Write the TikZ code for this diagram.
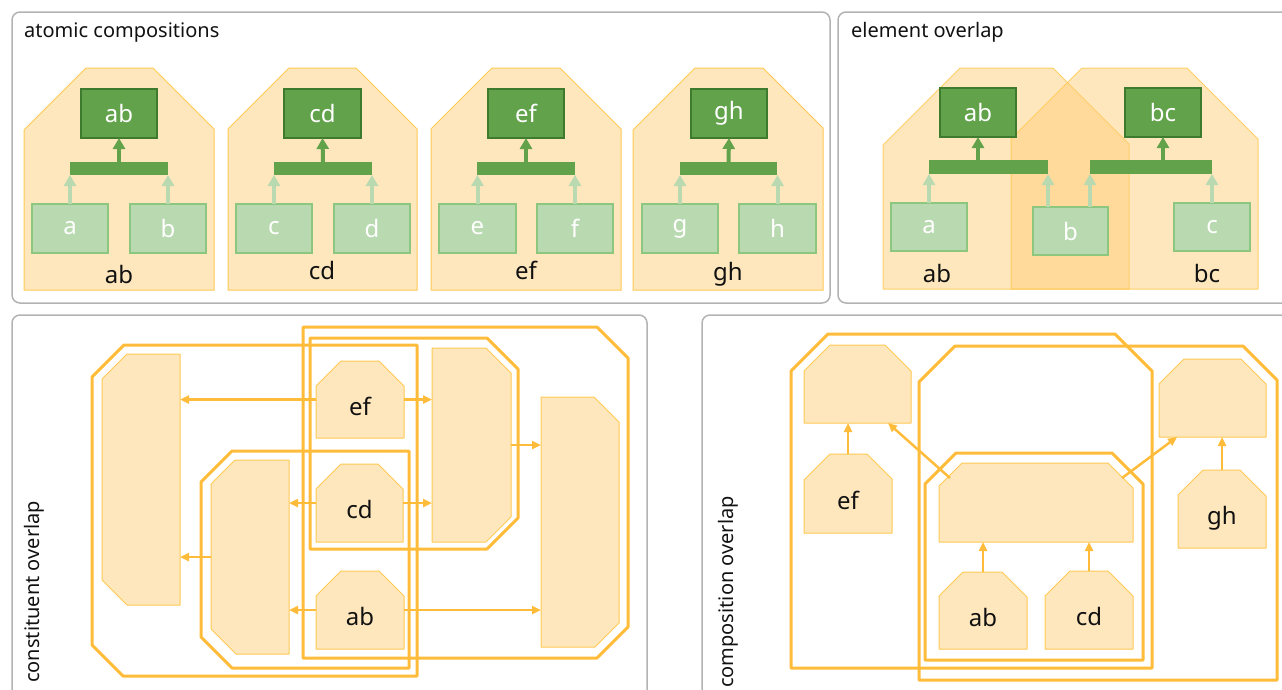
\documentclass[tikz,border=0pt]{standalone}
\usepackage{fontspec}
\setmainfont{Noto Sans}
\usetikzlibrary{arrows.meta,calc,backgrounds}
\definecolor{ofill}{HTML}{FFE7BD}
\definecolor{oline}{HTML}{FFC952}
\definecolor{ehf}{RGB}{255,203,112}
\definecolor{oframe}{HTML}{FFBC3A}
\definecolor{gdark}{HTML}{62A24B}
\definecolor{gdarkline}{HTML}{3E7B2F}
\definecolor{glight}{HTML}{B9DAB0}
\definecolor{glightline}{HTML}{8DC77F}
\definecolor{panelc}{HTML}{B3B3B3}
\definecolor{txt}{HTML}{111111}
\newcommand\lblfont{\fontsize{24}{28}\selectfont}
\tikzset{
  bnd/.style={inner sep=0pt,outer sep=0pt,draw=none},
  panel/.style={draw=panelc,line width=1.5pt,rounded corners=8pt},
  ttl/.style={font=\fontsize{20}{24}\selectfont,text=txt,inner sep=0pt},
  house/.style={fill=ofill,draw=oline,line width=1pt},
  ehouse/.style={fill=ehf,fill opacity=0.46,draw=oline,draw opacity=0.85,line width=1pt},
  oshape/.style={fill=ofill,draw=oline,line width=1pt,line join=round},
  frame/.style={draw=oframe,line width=3pt,line join=round},
  oarr/.style={draw=oframe,line width=2.5pt,-{Triangle[length=9pt,width=8pt]}},
  gparent/.style={bnd,fill=gdark,draw=gdarkline,line width=1.5pt,text=white,font=\lblfont},
  gchild/.style={bnd,fill=glight,draw=glightline,line width=1.5pt,text=white,font=\lblfont},
  gbar/.style={bnd,fill=gdark},
  garr/.style={draw=gdark,line width=4pt,-{Triangle[length=11pt,width=12pt]}},
  lgarr/.style={draw=glight,line width=4pt,-{Triangle[length=11pt,width=12pt]}},
  lbl/.style={font=\lblfont,text=txt,inner sep=0pt},
  olbl/.style={bnd,font=\lblfont,text=txt,text height=31pt,text depth=0pt},
}
% \bx{name}{x1}{y1}{x2}{y2}{style}{text}
\newcommand\bx[7]{\node[#6,minimum width={(#4-#2)*1pt},minimum height={(#5-#3)*1pt}] (#1) at ({(#2+#4)/2},{(#3+#5)/2}) {#7};}
% \chpoly{name}{tl}{tr}{br}{bl}{style}
\newcommand\chpoly[6]{\path[#6] ($(#1.north west)+(0,#2)$) -- ($(#1.north west)+(#2,0)$) -- ($(#1.north east)+(-#3,0)$) -- ($(#1.north east)+(0,#3)$) -- ($(#1.south east)+(0,-#4)$) -- ($(#1.south east)+(-#4,0)$) -- ($(#1.south west)+(#5,0)$) -- ($(#1.south west)+(0,-#5)$) -- cycle;}
\begin{document}
\begin{tikzpicture}[x=1pt,y=-1pt]
\useasboundingbox (0,0) rectangle (1282,689);
% panels
\draw[panel] (12,12) rectangle (830,303);
\draw[panel] (838,12) rectangle (1300,303);
\draw[panel] (12,315) rectangle (647,710);
\draw[panel] (702,315) rectangle (1300,710);
\node[ttl,anchor=base west] (t1) at (24,37) {atomic compositions};
\node[ttl,anchor=base west] (t2) at (851,37) {element overlap};
\node[ttl,rotate=90,anchor=base west] (t3) at (39,683) {constituent overlap};
\node[ttl,rotate=90,anchor=base west] (t4) at (733,688) {composition overlap};

% ===== atomic compositions =====
\bx{h1}{24}{68}{214}{290}{bnd}{}
\bx{h2}{228}{68}{417}{290}{bnd}{}
\bx{h3}{431}{68}{621}{290}{bnd}{}
\bx{h4}{633}{68}{823}{290}{bnd}{}
\bx{p1}{81}{89}{157}{138}{gparent}{ab}
\bx{p2}{284}{89}{361}{138}{gparent}{cd}
\bx{p3}{488}{89}{564}{138}{gparent}{ef}
\bx{p4}{691}{89}{767}{138}{gparent}{gh}
\bx{r1}{70}{162}{168}{175}{gbar}{}
\bx{r2}{274}{162}{372}{175}{gbar}{}
\bx{r3}{477}{162}{575}{175}{gbar}{}
\bx{r4}{680}{162}{777}{175}{gbar}{}
\bx{xa}{32}{204}{108}{253}{gchild}{a}
\bx{xb}{130}{204}{206}{253}{gchild}{b}
\bx{xc}{236}{204}{312}{253}{gchild}{c}
\bx{xd}{334}{204}{410}{253}{gchild}{d}
\bx{xe}{439}{204}{516}{253}{gchild}{e}
\bx{xf}{537}{204}{613}{253}{gchild}{f}
\bx{xg}{642}{204}{718}{253}{gchild}{g}
\bx{xh}{739}{204}{816}{253}{gchild}{h}
\node[lbl] (l1) at (119,274) {ab};
\node[lbl] (l2) at (322,270) {cd};
\node[lbl] (l3) at (526,270) {ef};
\node[lbl] (l4) at (728,274) {gh};
\foreach \p/\r in {p1/r1,p2/r2,p3/r3,p4/r4}{\draw[garr] (\r.north) -- (\p.south);}
\foreach \c/\r in {xa/r1,xb/r1,xc/r2,xd/r2,xe/r3,xf/r3,xg/r4,xh/r4}{\draw[lgarr] (\c.north) -- (\c.north |- \r.south);}

% ===== element overlap =====
\bx{eh1}{883}{68}{1129}{289}{bnd}{}
\bx{eh2}{1011}{68}{1258}{289}{bnd}{}
\bx{ep1}{940}{88}{1016}{137}{gparent}{ab}
\bx{ep2}{1125}{88}{1201}{137}{gparent}{bc}
\bx{er1}{929}{160}{1048}{174}{gbar}{}
\bx{er2}{1090}{160}{1212}{174}{gbar}{}
\bx{ea}{891}{203}{967}{251}{gchild}{a}
\bx{eb}{1033}{207}{1108}{255}{gchild}{b}
\bx{ec}{1174}{203}{1250}{251}{gchild}{c}
\node[lbl] (el1) at (937,273) {ab};
\node[lbl] (el2) at (1207,273) {bc};
\draw[garr] (ep1.south |- er1.north) -- (ep1.south);
\draw[garr] (ep2.south |- er2.north) -- (ep2.south);
\draw[lgarr] (ea.north) -- (ea.north |- er1.south);
\draw[lgarr] (eb.north -| er1.east) -- (er1.south east);
\draw[lgarr] (eb.north -| er2.west) -- (er2.south west);
\draw[lgarr] (ec.north) -- (ec.north |- er2.south);

% ===== constituent overlap =====
\bx{cef}{316}{361}{404}{438}{olbl}{ef}
\bx{ccd}{316}{464}{403}{542}{olbl}{cd}
\bx{cab}{316}{571}{404}{649}{olbl}{ab}
\bx{A1}{102}{354}{180}{605}{bnd}{}
\bx{A2}{211}{460}{289}{654}{bnd}{}
\bx{B1}{432}{348}{511}{542}{bnd}{}
\bx{B2}{541}{397}{619}{647}{bnd}{}
\bx{FA1}{92}{345}{417}{676}{bnd}{}
\bx{FA2}{201}{451}{409}{668}{bnd}{}
\bx{FB1}{310}{338}{518}{549}{bnd}{}
\bx{FB2}{303}{327}{628}{658}{bnd}{}
\chpoly{FA1}{32}{0}{0}{31}{frame}
\chpoly{FA2}{31}{0}{0}{31}{frame}
\chpoly{FB1}{0}{31}{31}{0}{frame}
\chpoly{FB2}{0}{31}{31}{0}{frame}
\draw[oarr] (cef.west) -- (cef.west -| A1.east);
\draw[oarr] (cef.east) -- (cef.east -| B1.west);
\draw[oarr] (ccd.west) -- (ccd.west -| A2.east);
\draw[oarr] (ccd.east) -- (ccd.east -| B1.west);
\draw[oarr] (A2.west) -- (A2.west -| A1.east);
\draw[oarr] (cab.west) -- (cab.west -| A2.east);
\draw[oarr] (cab.east) -- (cab.east -| B2.west);
\draw[oarr] (B1.east) -- (B1.east -| B2.west);

% ===== composition overlap =====
\bx{Pef}{804}{345}{911}{423}{bnd}{}
\bx{kef}{804}{454}{892}{533}{olbl}{ef}
\bx{Pabcd}{939}{463}{1133}{542}{bnd}{}
\bx{kab}{939}{572}{1027}{649}{olbl}{ab}
\bx{kcd}{1045}{571}{1133}{649}{olbl}{cd}
\bx{Pgh}{1159}{359}{1266}{437}{bnd}{}
\bx{kgh}{1178}{470}{1266}{548}{olbl}{gh}
\bx{Fef}{791}{334}{1152}{668}{bnd}{}
\bx{Fgh}{919}{346}{1277}{680}{bnd}{}
\bx{Fabcd}{925}{453}{1143}{660}{bnd}{}
\chpoly{Fef}{37}{37}{0}{0}{frame}
\chpoly{Fgh}{36}{34}{0}{0}{frame}
\chpoly{Fabcd}{31}{31}{0}{0}{frame}
\draw[oarr] (kef.north) -- (kef.north |- Pef.south);
\draw[oarr] ($(Pabcd.north west)+(11,15)$) -- ($(Pef.south east)+(-23,0)$);
\draw[oarr] ($(Pabcd.north east)+(-11,15)$) -- ($(Pgh.south west)+(18,0)$);
\draw[oarr] (kab.north) -- (kab.north |- Pabcd.south);
\draw[oarr] (kcd.north) -- (kcd.north |- Pabcd.south);
\draw[oarr] (kgh.north) -- (kgh.north |- Pgh.south);

% ===== background fills =====
\begin{pgfonlayer}{background}
\chpoly{h1}{62}{61}{0}{0}{house}
\chpoly{h2}{61}{61}{0}{0}{house}
\chpoly{h3}{61}{61}{0}{0}{house}
\chpoly{h4}{62}{60}{0}{0}{house}
\chpoly{eh1}{77}{76}{0}{0}{ehouse}
\chpoly{eh2}{71}{71}{0}{0}{ehouse}
\chpoly{cef}{25}{25}{0}{0}{oshape}
\chpoly{ccd}{25}{25}{0}{0}{oshape}
\chpoly{cab}{25}{25}{0}{0}{oshape}
\chpoly{A1}{25}{0}{0}{25}{oshape}
\chpoly{A2}{24}{0}{0}{25}{oshape}
\chpoly{B1}{0}{25}{25}{0}{oshape}
\chpoly{B2}{0}{25}{24}{0}{oshape}
\chpoly{Pef}{26}{26}{0}{0}{oshape}
\chpoly{kef}{26}{25}{0}{0}{oshape}
\chpoly{Pabcd}{23}{25}{0}{0}{oshape}
\chpoly{kab}{24}{25}{0}{0}{oshape}
\chpoly{kcd}{25}{25}{0}{0}{oshape}
\chpoly{Pgh}{25}{25}{0}{0}{oshape}
\chpoly{kgh}{25}{26}{0}{0}{oshape}
\end{pgfonlayer}
\end{tikzpicture}
\end{document}
